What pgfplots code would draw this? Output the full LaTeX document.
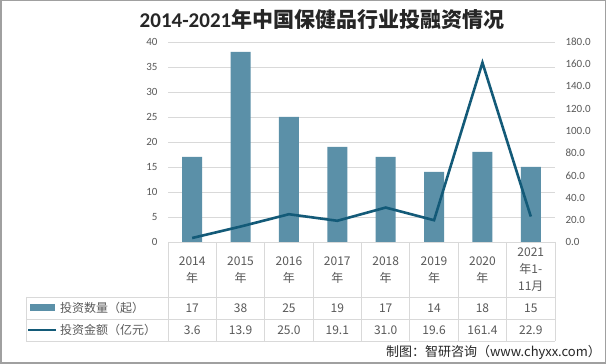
\documentclass[border=0pt]{standalone}
\usepackage{pgfplots}
\pgfplotsset{compat=1.18}
\usepackage{fontspec}
\setmainfont{Carlito}
\newfontfamily\cjk{Noto Sans CJK SC}
\definecolor{barblue}{HTML}{5B90A8}
\definecolor{linecol}{HTML}{135A78}
\definecolor{gridgray}{HTML}{D9D9D9}
\definecolor{tickgray}{HTML}{595959}
\definecolor{framegray}{HTML}{A0A0A0}
\definecolor{titlecol}{HTML}{262626}
\begin{document}
\begin{tikzpicture}[x=1pt,y=1pt]
\useasboundingbox (0,0) rectangle (606,364);
\fill[white] (0,0) rectangle (606,364);
\draw[framegray, line width=1.5pt] (0.75,0.75) rectangle (605.25,363.25);
\node[text=titlecol, font=\fontsize{21}{24}\selectfont] at (322,344) {{\bfseries 2014-2021}{\cjk\bfseries 年中国保健品行业投融资情况}};
\begin{axis}[
  at={(168pt,122pt)}, anchor=south west, scale only axis,
  width=387pt, height=200pt,
  xmin=-0.5, xmax=7.5, ymin=0, ymax=40,
  ytick={0,5,...,40}, xtick={0,...,7},
  xticklabels={{2014\\年},{2015\\年},{2016\\年},{2017\\年},{2018\\年},{2019\\年},{2020\\年},{2021\\年1-\\11月}},
  xticklabel style={font=\cjk\fontsize{12}{17}\selectfont, text=tickgray, align=center, anchor=center, yshift=-28pt},
  axis y line*=left, axis x line*=bottom,
  axis line style={draw=none}, major tick length=0,
  ymajorgrids, grid style={gridgray, line width=0.7pt},
  /pgf/number format/assume math mode=true,
  yticklabel style={font=\fontsize{11}{12}\selectfont, text=tickgray, xshift=-7pt},
  clip=false,
]
\addplot[ybar, bar width=20pt, fill=barblue, draw=none] coordinates {(0,17) (1,38) (2,25) (3,19) (4,17) (5,14) (6,18) (7,15)};
\end{axis}
\begin{axis}[
  at={(168pt,122pt)}, anchor=south west, scale only axis,
  width=387pt, height=200pt,
  xmin=-0.5, xmax=7.5, ymin=0, ymax=180,
  ytick={0,20,...,180},
  axis y line*=right, hide x axis,
  axis line style={draw=none}, major tick length=0,
  /pgf/number format/assume math mode=true,
  yticklabel style={font=\fontsize{11}{12}\selectfont, text=tickgray, xshift=7pt, /pgf/number format/.cd, fixed, fixed zerofill, precision=1},
  clip=false,
]
\addplot[linecol, line width=2.6pt, mark=none, line join=miter] coordinates {(0,3.6) (1,13.9) (2,25.0) (3,19.1) (4,31.0) (5,19.6) (6,161.4) (7,22.9)};
\end{axis}
% table grid
\foreach \k in {0,...,8} \draw[gridgray, line width=0.8pt] ({168+48.375*\k},122) -- ({168+48.375*\k},23);
\draw[gridgray, line width=0.8pt] (26,67) -- (555,67) (26,45) -- (555,45) (26,23) -- (555,23) (26,67) -- (26,23);
\foreach \v [count=\i from 0] in {17,38,25,19,17,14,18,15}
  \node[font=\cjk\fontsize{12}{14}\selectfont, text=tickgray] at ({168+48.375*(\i+0.5)},56) {\v};
\foreach \v [count=\i from 0] in {3.6,13.9,25.0,19.1,31.0,19.6,161.4,22.9}
  \node[font=\cjk\fontsize{12}{14}\selectfont, text=tickgray] at ({168+48.375*(\i+0.5)},34) {\v};
\fill[barblue] (30,53) rectangle (55,59.5);
\draw[linecol, line width=2.6pt] (28,34) -- (56,34);
\node[anchor=west, font=\cjk\fontsize{12}{14}\selectfont, text=tickgray, inner sep=0pt] at (60,56) {投资数量（起）};
\node[anchor=west, font=\cjk\fontsize{12}{14}\selectfont, text=tickgray, inner sep=0pt] at (60,34) {投资金额（亿元）};
\node[anchor=east, font=\cjk\fontsize{13}{15}\selectfont, text=titlecol, inner sep=0pt] at (601,12) {制图：智研咨询（www.chyxx.com）};
\end{tikzpicture}
\end{document}
